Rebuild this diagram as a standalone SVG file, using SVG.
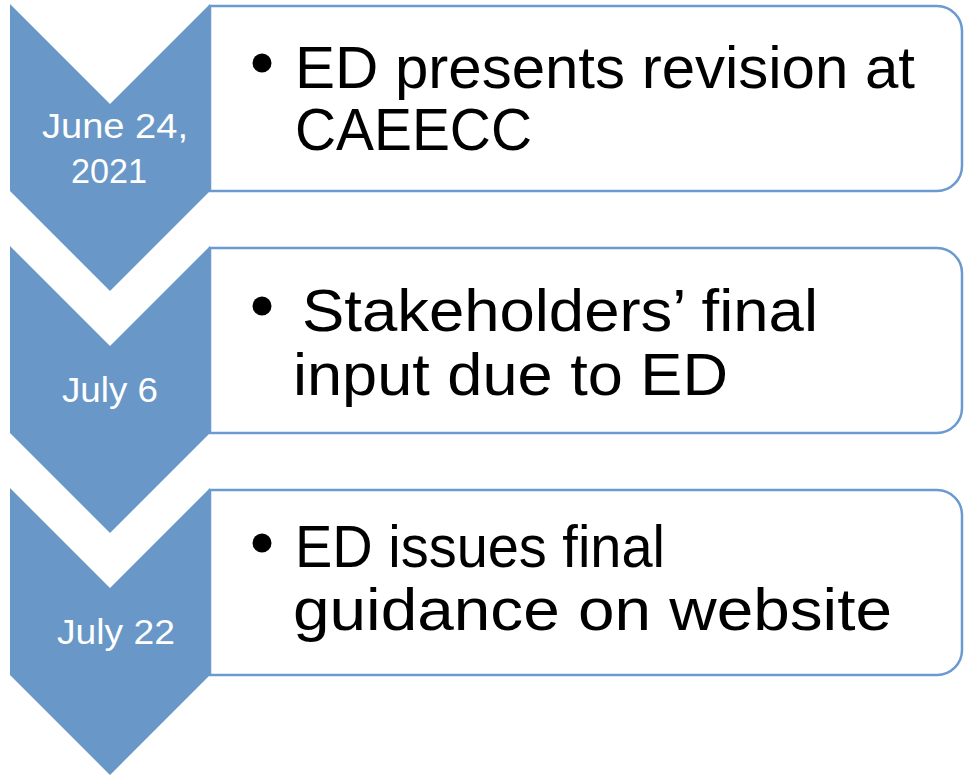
<svg xmlns="http://www.w3.org/2000/svg" width="964" height="775" viewBox="0 0 964 775">
<style>
.box{fill:#ffffff;stroke:#6b9ad0;stroke-width:2.5}
.chev{fill:#6897c8}
.date{fill:#ffffff;font-family:"Liberation Sans",Arial,sans-serif;font-size:35px}
.item{fill:#000000;font-family:"Liberation Sans",Arial,sans-serif;font-size:60px}
.bullet{fill:#000000}
</style>
<rect width="964" height="775" fill="#ffffff"/>
<g id="connectors"></g>
<g id="step1">
<path class="box" d="M210,6 H937 A25,25 0 0 1 962,31 V166 A25,25 0 0 1 937,191 H210 Z"/>
<polygon class="chev" points="10,4 110,104 210,4 210,191 110,291 10,191"/>
<text class="date" x="42" y="138" textLength="146" lengthAdjust="spacingAndGlyphs">June 24,</text>
<text class="date" x="71" y="183" textLength="76" lengthAdjust="spacingAndGlyphs">2021</text>
<circle class="bullet" cx="262" cy="63" r="9.5"/>
<text class="item" x="295" y="88" textLength="620" lengthAdjust="spacingAndGlyphs">ED presents revision at</text>
<text class="item" x="295" y="150" textLength="237" lengthAdjust="spacingAndGlyphs">CAEECC</text>
</g>
<g id="step2">
<path class="box" d="M210,248 H937 A25,25 0 0 1 962,273 V408 A25,25 0 0 1 937,433 H210 Z"/>
<polygon class="chev" points="10,246 110,346 210,246 210,433 110,533 10,433"/>
<text class="date" x="62" y="402" textLength="96" lengthAdjust="spacingAndGlyphs">July 6</text>
<circle class="bullet" cx="262" cy="306" r="9.5"/>
<text class="item" x="302" y="331" textLength="516" lengthAdjust="spacingAndGlyphs">Stakeholders’ final</text>
<text class="item" x="293" y="395" textLength="435" lengthAdjust="spacingAndGlyphs">input due to ED</text>
</g>
<g id="step3">
<path class="box" d="M210,490 H937 A25,25 0 0 1 962,515 V650 A25,25 0 0 1 937,675 H210 Z"/>
<polygon class="chev" points="10,488 110,588 210,488 210,675 110,775 10,675"/>
<text class="date" x="57" y="644" textLength="118" lengthAdjust="spacingAndGlyphs">July 22</text>
<circle class="bullet" cx="262" cy="543" r="9.5"/>
<text class="item" x="295" y="567" textLength="370" lengthAdjust="spacingAndGlyphs">ED issues final</text>
<text class="item" x="293" y="630" textLength="599" lengthAdjust="spacingAndGlyphs">guidance on website</text>
</g>
</svg>
